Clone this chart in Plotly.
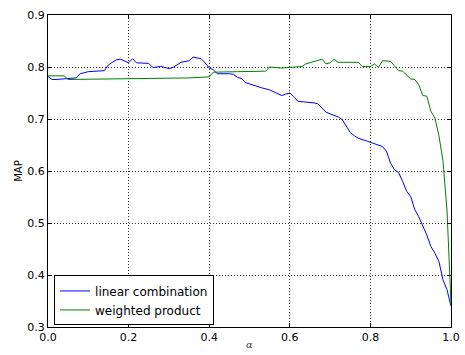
import plotly.graph_objects as go

# MAP as a function of the mixing weight alpha, for two score-fusion schemes
alpha_lin = [0.00, 0.01, 0.02, 0.04, 0.07, 0.08, 0.10, 0.14, 0.15, 0.17, 0.18, 0.20,
             0.21, 0.22, 0.25, 0.26, 0.28, 0.30, 0.31, 0.33, 0.34, 0.35, 0.36, 0.38,
             0.39, 0.40, 0.41, 0.42, 0.45, 0.46, 0.47, 0.48, 0.49, 0.52, 0.53, 0.55,
             0.56, 0.58, 0.59, 0.60, 0.61, 0.62, 0.66, 0.67, 0.69, 0.72, 0.73, 0.74,
             0.75, 0.76, 0.77, 0.79, 0.81, 0.82, 0.83, 0.84, 0.85, 0.86, 0.87, 0.88,
             0.89, 0.90, 0.91, 0.92, 0.94, 0.95, 0.96, 0.97, 0.98, 0.99, 1.00]
map_lin = [0.782, 0.776, 0.776, 0.777, 0.779, 0.787, 0.791, 0.793, 0.804, 0.814, 0.815, 0.808,
           0.816, 0.808, 0.807, 0.799, 0.801, 0.797, 0.799, 0.809, 0.811, 0.812, 0.819, 0.816,
           0.808, 0.798, 0.795, 0.787, 0.787, 0.786, 0.780, 0.778, 0.770, 0.762, 0.760, 0.756,
           0.752, 0.745, 0.748, 0.750, 0.743, 0.734, 0.731, 0.729, 0.713, 0.704, 0.699, 0.687,
           0.674, 0.668, 0.663, 0.658, 0.652, 0.649, 0.647, 0.638, 0.615, 0.602, 0.597, 0.580,
           0.561, 0.551, 0.526, 0.512, 0.477, 0.455, 0.442, 0.426, 0.391, 0.372, 0.340]

alpha_wp = [0.00, 0.04, 0.05, 0.20, 0.31, 0.35, 0.40, 0.41, 0.47, 0.54, 0.55, 0.58,
            0.63, 0.64, 0.68, 0.69, 0.70, 0.71, 0.72, 0.77, 0.78, 0.80, 0.81, 0.82,
            0.83, 0.85, 0.87, 0.88, 0.90, 0.91, 0.92, 0.93, 0.94, 0.95, 0.96, 0.97,
            0.98, 0.99, 1.00]
map_wp = [0.783, 0.783, 0.776, 0.777, 0.778, 0.779, 0.781, 0.790, 0.791, 0.792, 0.800, 0.798,
          0.801, 0.806, 0.815, 0.806, 0.808, 0.815, 0.809, 0.809, 0.801, 0.801, 0.806, 0.799,
          0.812, 0.811, 0.793, 0.792, 0.777, 0.776, 0.766, 0.745, 0.744, 0.715, 0.702, 0.668,
          0.620, 0.525, 0.345]

x_ticks = [0.0, 0.2, 0.4, 0.6, 0.8, 1.0]
y_ticks = [0.3, 0.4, 0.5, 0.6, 0.7, 0.8, 0.9]

fig = go.Figure()
fig.add_trace(go.Scatter(x=alpha_lin, y=map_lin, mode="lines", name="linear combination",
                         line=dict(color="#0000ff", width=1)))
fig.add_trace(go.Scatter(x=alpha_wp, y=map_wp, mode="lines", name="weighted product",
                         line=dict(color="#008000", width=1)))

axis_style = dict(
    showline=True, linecolor="black", linewidth=1, mirror="ticks",
    ticks="inside", ticklen=4, tickcolor="black",
    showgrid=True, gridcolor="#333333", gridwidth=1, griddash="1px,2px",
    zeroline=False, automargin=False,
    tickfont=dict(family="DejaVu Sans", size=11, color="black"),
)

fig.update_xaxes(range=[0, 1], tickvals=x_ticks,
                 ticktext=[f"{v:.1f}" for v in x_ticks], **axis_style)
fig.update_yaxes(range=[0.3, 0.9], tickvals=y_ticks,
                 ticktext=[f"{v:.1f}" for v in y_ticks], **axis_style)

fig.update_layout(
    width=465, height=355,
    margin=dict(l=48, r=14, t=15, b=28, autoexpand=False),
    paper_bgcolor="white", plot_bgcolor="white",
    font=dict(family="DejaVu Sans", color="black"),
    showlegend=True,
    legend=dict(x=0.015, y=0.005, xanchor="left", yanchor="bottom",
                bordercolor="black", borderwidth=1, bgcolor="white",
                font=dict(family="DejaVu Sans", size=12, color="black"),
                tracegroupgap=0, itemwidth=30),
    annotations=[
        dict(text="MAP", xref="paper", yref="paper", x=-0.075, y=0.5,
             textangle=-90, showarrow=False, xanchor="center", yanchor="middle",
             font=dict(family="DejaVu Sans", size=10, color="black")),
        dict(text="<i>α</i>", xref="paper", yref="paper", x=0.5, y=-0.056,
             showarrow=False, xanchor="center", yanchor="middle",
             borderpad=0, font=dict(family="DejaVu Serif", size=10, color="#444444")),
    ],
)

fig.write_html("out.html")
